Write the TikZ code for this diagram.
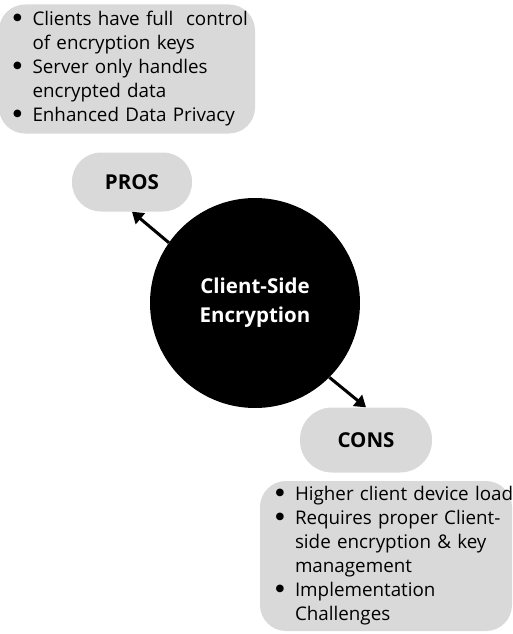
\documentclass[tikz,border=0pt]{standalone}
\usepackage{fontspec}
\setmainfont{Open Sans}
\newfontfamily\dotfont{DejaVu Sans}
\usetikzlibrary{positioning}
\usetikzlibrary{arrows.meta}
\definecolor{boxgrey}{HTML}{D9D9D9}
% one line of a bullet list, first line with a bullet, later lines indented
\newcommand{\bul}[1]{\mbox{\makebox[19.5pt][l]{\raisebox{5.5pt}{\dotfont\fontsize{10}{10}\selectfont ●}}#1}}
\newcommand{\cont}[1]{\mbox{\hspace*{19.5pt}#1}}
\tikzset {
  x=1pt, y=-1pt,
  % grey label pills
  pill/.style = {fill=boxgrey, rounded corners=29pt, minimum width=120pt, minimum height=59pt,
    font=\fontsize{20.5}{24}\selectfont\bfseries},
  % grey boxes with the bullet lists
  listbox/.style = {fill=boxgrey, rounded corners=26pt, align=left,
    font=\fontsize{18.8}{24}\selectfont},
  % the black centre
  hub/.style = {circle, fill=black, text=white, minimum size=210pt, align=center,
    font=\fontsize{20.5}{29}\selectfont\bfseries},
  link/.style = {line width=3pt, -{Triangle[length=11pt, width=14pt]}},
}
\begin{document}
\begin{tikzpicture}
  \useasboundingbox (0,0) rectangle (513,634);

  \node[hub] (center) at (255,303) {Client-Side\\Encryption};

  \node[pill] (pros) at (132,182) {PROS};
  \node[pill, minimum width=132pt, minimum height=65pt, rounded corners=32pt] (cons) at (366,440) {CONS};

  \node[listbox, text width=228pt, inner xsep=14pt, minimum height=129pt] (proslist) at (127,69)
    {\bul{Clients have full\ \ control}\\
     \cont{of encryption keys}\\
     \bul{Server only handles}\\
     \cont{encrypted data}\\
     \bul{Enhanced Data Privacy}};

  \node[listbox, text width=221pt, inner xsep=15.5pt, minimum height=150pt] (conslist) at (386,556)
    {\bul{Higher client device load}\\
     \bul{Requires proper Client-}\\
     \cont{side encryption \& key}\\
     \cont{management}\\
     \bul{Implementation}\\
     \cont{Challenges}};

  \draw[link] (center.145) -- (pros.south);
  \draw[link] (center.-45) -- (cons.north);
\end{tikzpicture}
\end{document}
